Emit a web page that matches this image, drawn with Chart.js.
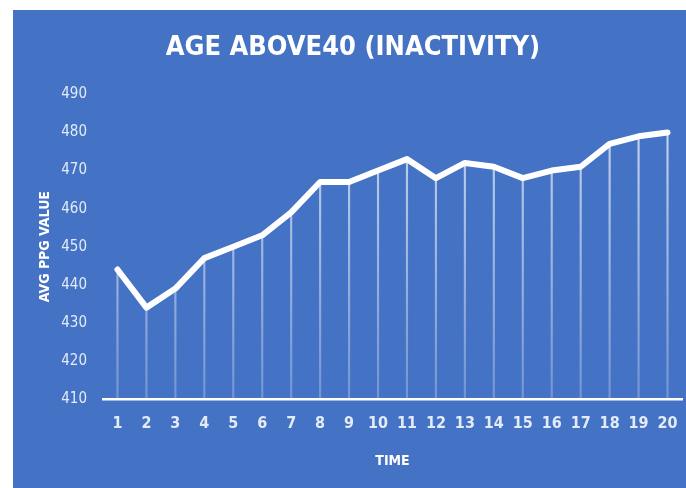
<!DOCTYPE html>
<html>
<head>
<meta charset="utf-8">
<script src="https://cdn.jsdelivr.net/npm/chart.js@4/dist/chart.umd.min.js"></script>
<style>
  html, body { margin: 0; padding: 0; background: #fff; }
  #wrap { position: absolute; left: 13px; top: 10px; width: 673px; height: 478px; background: #4472c4; }
</style>
</head>
<body>
<div id="wrap"><canvas id="chart"></canvas></div>
<script>
const timeLabels = ['1', '2', '3', '4', '5', '6', '7', '8', '9', '10', '11', '12', '13', '14', '15', '16', '17', '18', '19', '20'];
const ppgValues = [444, 434, 439, 447, 450, 453, 459, 467, 467, 470, 473, 468, 472, 471, 468, 470, 471, 477, 479, 480];
const yTicks = [410, 420, 430, 440, 450, 460, 470, 480, 490];

const fontFamily = "'DejaVu Sans Condensed', 'Liberation Sans', sans-serif";
const tickColor = 'rgba(235, 241, 250, 0.95)';
const ctx = document.getElementById('chart').getContext('2d');

new Chart(ctx, {
  type: 'bar',
  data: {
    labels: timeLabels,
    datasets: [
      {
        type: 'line',
        label: 'Avg PPG',
        data: ppgValues,
        borderColor: '#ffffff',
        borderWidth: 6,
        pointRadius: 0,
        tension: 0,
        borderJoinStyle: 'round',
        borderCapStyle: 'round',
        order: 0
      },
      {
        label: 'drop',
        data: ppgValues,
        barThickness: 1.5,
        backgroundColor: (c) => {
          const area = c.chart.chartArea;
          if (!area) return 'rgba(255,255,255,0.6)';
          const g = c.chart.ctx.createLinearGradient(0, area.top, 0, area.bottom);
          g.addColorStop(0, 'rgba(255,255,255,0.75)');
          g.addColorStop(1, 'rgba(255,255,255,0.25)');
          return g;
        },
        order: 1
      }
    ]
  },
  options: {
    responsive: true,
    maintainAspectRatio: false,
    animation: false,
    layout: { padding: { top: 18, right: 4, bottom: 14, left: 11 } },
    plugins: {
      legend: { display: false },
      tooltip: { enabled: false },
      title: {
        display: true,
        text: 'AGE ABOVE40 (INACTIVITY)',
        color: '#ffffff',
        font: { family: fontFamily, size: 27, weight: 'bold' },
        padding: { top: 4, bottom: 30 }
      }
    },
    scales: {
      x: {
        offset: true,
        afterFit: (scale) => { scale.paddingRight = 0; },
        grid: { display: false, drawTicks: false },
        border: { color: '#ffffff', width: 2.5 },
        ticks: { color: tickColor, font: { family: fontFamily, size: 16, weight: 'bold' }, padding: 15 },
        title: { display: true, text: 'TIME', color: '#ffffff', font: { family: fontFamily, size: 14, weight: 'bold' }, padding: { top: 5 } }
      },
      y: {
        min: 410,
        max: 490,
        afterBuildTicks: (axis) => { axis.ticks = yTicks.map(v => ({ value: v })); },
        afterFit: (scale) => { scale.width = 79; },
        grid: { display: false, drawTicks: false },
        border: { display: false },
        ticks: { color: tickColor, font: { family: fontFamily, size: 15 }, padding: 16 },
        title: { display: true, text: 'AVG PPG VALUE', color: '#ffffff', font: { family: fontFamily, size: 14, weight: 'bold' }, padding: { top: 13, bottom: 0 } }
      }
    }
  }
});
</script>
</body>
</html>
